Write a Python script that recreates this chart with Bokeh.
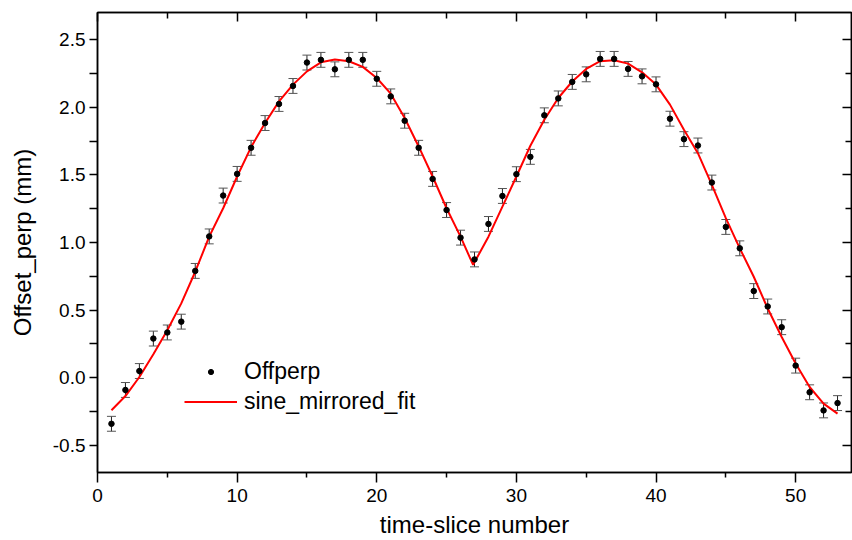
from bokeh.plotting import figure
from bokeh.models import (Range1d, LinearAxis, FixedTicker, PrintfTickFormatter,
                          CustomJSTickFormatter, Whisker, TeeHead, ColumnDataSource,
                          Legend, LegendItem)
from bokeh.embed import file_html
from bokeh.resources import INLINE

# ---- data ----
slice_x = list(range(1, 54))
offperp = [-0.34, -0.09, 0.05, 0.29, 0.335, 0.415, 0.79, 1.045, 1.347, 1.507,
           1.70, 1.883, 2.024, 2.157, 2.33, 2.35, 2.28, 2.35, 2.35, 2.21,
           2.08, 1.90, 1.70, 1.47, 1.24, 1.036, 0.875, 1.137, 1.344, 1.505,
           1.633, 1.94, 2.065, 2.187, 2.243, 2.357, 2.357, 2.283, 2.228, 2.169,
           1.915, 1.764, 1.717, 1.443, 1.115, 0.957, 0.641, 0.527, 0.374, 0.09,
           -0.107, -0.241, -0.187]
offperp_err = [0.055] * 53

fit_x = list(range(1, 27)) + [26.9] + list(range(28, 54))
fit_y = [-0.24, -0.135, 0.006, 0.174, 0.352, 0.55, 0.784, 1.043, 1.253, 1.488,
         1.705, 1.883, 2.043, 2.167, 2.265, 2.332, 2.352, 2.34, 2.298, 2.216,
         2.10, 1.92, 1.71, 1.488, 1.253, 1.043, 0.835,
         1.043, 1.265, 1.488, 1.715, 1.907, 2.068, 2.19, 2.283, 2.34, 2.347,
         2.322, 2.258, 2.167, 2.019, 1.833, 1.66, 1.426, 1.18, 0.957, 0.747,
         0.512, 0.302, 0.105, -0.068, -0.191, -0.265]

x_major = [0, 10, 20, 30, 40, 50]
x_minor = [5, 15, 25, 35, 45]
y_major = [-0.5, 0.0, 0.5, 1.0, 1.5, 2.0, 2.5]
y_minor = [-0.25, 0.25, 0.75, 1.25, 1.75, 2.25]

FONT = "Liberation Sans"

src = ColumnDataSource(dict(
    x=slice_x, y=offperp,
    upper=[v + e for v, e in zip(offperp, offperp_err)],
    lower=[v - e for v, e in zip(offperp, offperp_err)],
))

p = figure(width=852, height=540, output_backend="svg", toolbar_location=None,
           x_range=Range1d(0, 54), y_range=Range1d(-0.7, 2.7),
           min_border_left=97, min_border_top=12, min_border_right=1,
           min_border_bottom=60, background_fill_color="white",
           border_fill_color="white")
p.xgrid.visible = False
p.ygrid.visible = False
p.outline_line_color = "black"
p.outline_line_width = 1.5

fit_r = p.line(fit_x, fit_y, line_color="#ff0000", line_width=2)

wh = Whisker(source=src, base="x", upper="upper", lower="lower",
             line_color="#222222", line_width=1,
             upper_head=TeeHead(size=9, line_color="#555555", line_width=1),
             lower_head=TeeHead(size=9, line_color="#555555", line_width=1))
p.add_layout(wh)

pts_r = p.scatter("x", "y", source=src, size=5.5, color="black")

# bottom axis
xa = p.xaxis[0]
xa.ticker = FixedTicker(ticks=x_major, minor_ticks=x_minor)
xa.axis_label = "time-slice number"
ya = p.yaxis[0]
ya.ticker = FixedTicker(ticks=y_major, minor_ticks=y_minor)
ya.formatter = PrintfTickFormatter(format="%.1f")
ya.axis_label = "Offset_perp (mm)"

for ax in (xa, ya):
    ax.axis_line_color = "black"
    ax.axis_line_width = 1.5
    ax.major_tick_line_color = "black"
    ax.minor_tick_line_color = "black"
    ax.major_tick_line_width = 1.5
    ax.minor_tick_line_width = 1.5
    ax.major_tick_in = 0
    ax.minor_tick_in = 0
    ax.major_label_text_font = FONT
    ax.major_label_text_font_size = "19px"
    ax.major_label_text_color = "black"
    ax.axis_label_text_font = FONT
    ax.axis_label_text_font_size = "24px"
    ax.axis_label_text_font_style = "normal"
    ax.axis_label_text_color = "black"

xa.major_tick_out = 10
xa.minor_tick_out = 5
xa.major_label_standoff = 6
xa.axis_label_standoff = 6
ya.major_tick_out = 8
ya.minor_tick_out = 8
ya.major_label_standoff = 4
ya.axis_label_standoff = 14

# top and right axes with inward ticks, no labels
blank = CustomJSTickFormatter(code="return ''")
top = LinearAxis(ticker=FixedTicker(ticks=x_major, minor_ticks=x_minor), formatter=blank)
right = LinearAxis(ticker=FixedTicker(ticks=y_major, minor_ticks=y_minor), formatter=blank)
for ax in (top, right):
    ax.major_label_text_font_size = "1px"
    ax.major_label_standoff = 0
    ax.major_tick_out = 0
    ax.minor_tick_out = 0
    ax.major_tick_in = 9
    ax.minor_tick_in = 6
    ax.axis_line_color = "black"
    ax.axis_line_width = 1.5
    ax.major_tick_line_width = 1.5
    ax.minor_tick_line_width = 1.5
p.add_layout(top, "above")
p.add_layout(right, "right")

legend = Legend(items=[LegendItem(label="Offperp", renderers=[pts_r]),
                       LegendItem(label="sine_mirrored_fit", renderers=[fit_r])],
                location=(87, 57), border_line_color=None,
                background_fill_alpha=0, glyph_width=53, glyph_height=13,
                label_height=28, label_standoff=7, spacing=2, padding=10,
                label_text_font=FONT, label_text_font_size="23px",
                label_text_color="black")
p.add_layout(legend)

open("out.html", "w").write(file_html(p, INLINE))
